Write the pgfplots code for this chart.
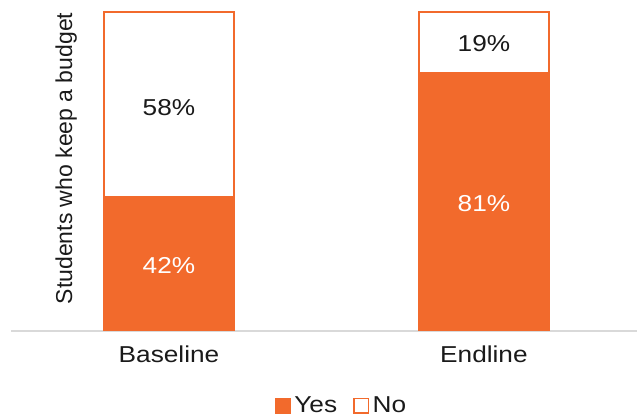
\documentclass[border=0pt]{standalone}
\usepackage{pgfplots}
\pgfplotsset{compat=1.18}
\usepackage{fontspec}
\setmainfont{Liberation Sans}[FakeStretch=1.14]
\newfontfamily\ylabfont{Liberation Sans}
\definecolor{bo}{HTML}{F26A2C}
\definecolor{txt}{HTML}{1A1A1A}
\definecolor{axgray}{HTML}{D9D9D9}
\begin{document}
\fontsize{23bp}{27bp}\selectfont
\begin{tikzpicture}
\pgfplotsset{
  common/.style={
    at={(11bp,87bp)}, anchor=south west,
    scale only axis, width=626bp, height=319bp,
    xmin=-0.5016, xmax=1.486, ymin=0, ymax=100,
  }
}
\begin{axis}[
  common,
  ybar stacked, bar width=0.413,
  axis x line*=bottom, axis y line*=left,
  x axis line style={draw=axgray, line width=1.5bp, -},
  y axis line style={draw=none},
  xtick={0,1}, xticklabels={Baseline,Endline},
  ytick=\empty,
  xtick style={draw=none},
  xticklabel style={text=txt, yshift=-7bp},
  ylabel={\ylabfont Students who keep a budget},
  ylabel style={at={(axis description cs:0.0880,0.541)}, anchor=center, text=txt},
  legend style={at={(axis description cs:0.528,-0.236)}, anchor=center,
    draw=none, fill=none, legend columns=2, text=txt,
    /tikz/every odd column/.append style={column sep=1.5bp},
    /tikz/every even column/.append style={column sep=14bp}},
  legend image code/.code={\draw[#1, line width=1.5bp] (0bp,-6.5bp) rectangle (14.5bp,8bp);},
]
\addplot[fill=bo, draw=bo, line width=1.8bp] coordinates {(0,42) (1,81)};
\addlegendentry{Yes}
\addplot[fill=white, draw=bo, line width=1.8bp] coordinates {(0,58) (1,19)};
\addlegendentry{No}
\end{axis}
\begin{axis}[
  common, hide axis, clip=false,
]
\addplot[draw=none, mark=none, nodes near coords, point meta=explicit symbolic,
  every node near coord/.style={anchor=center, text=white}]
  coordinates {(0,20.5)[42\%] (1,40)[81\%]};
\addplot[draw=none, mark=none, nodes near coords, point meta=explicit symbolic,
  every node near coord/.style={anchor=center, text=txt}]
  coordinates {(0,70)[58\%] (1,90)[19\%]};
\end{axis}
\pgfresetboundingbox
\path[use as bounding box] (0,0) rectangle (638bp,418bp);
\end{tikzpicture}
\end{document}
